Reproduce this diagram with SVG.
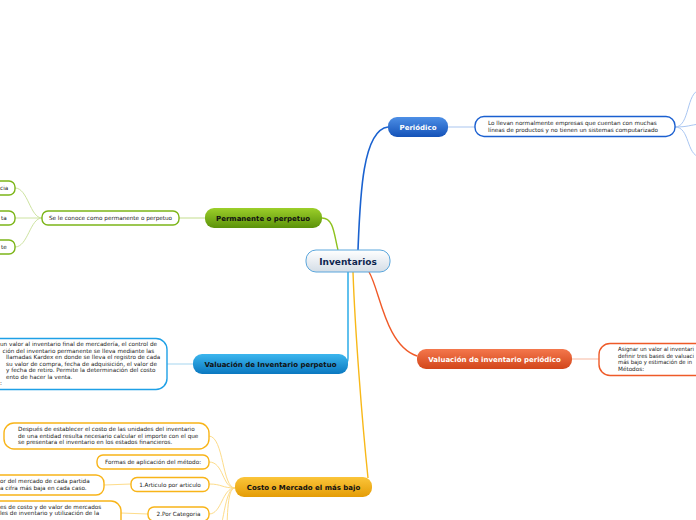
<svg xmlns="http://www.w3.org/2000/svg" width="696" height="520" viewBox="0 0 696 520">
<defs>
<linearGradient id="gCenter" x1="0" y1="0" x2="0" y2="1"><stop offset="0" stop-color="#ffffff"/><stop offset="1" stop-color="#d4dde6"/></linearGradient>
<linearGradient id="gBlue" x1="0" y1="0" x2="0" y2="1"><stop offset="0" stop-color="#4d8fe6"/><stop offset="1" stop-color="#1452b8"/></linearGradient>
<linearGradient id="gGreen" x1="0" y1="0" x2="0" y2="1"><stop offset="0" stop-color="#9ccf2a"/><stop offset="1" stop-color="#5b920a"/></linearGradient>
<linearGradient id="gCyan" x1="0" y1="0" x2="0" y2="1"><stop offset="0" stop-color="#3cb6ee"/><stop offset="1" stop-color="#0a78c0"/></linearGradient>
<linearGradient id="gOrange" x1="0" y1="0" x2="0" y2="1"><stop offset="0" stop-color="#f4774c"/><stop offset="1" stop-color="#d2461a"/></linearGradient>
<linearGradient id="gYellow" x1="0" y1="0" x2="0" y2="1"><stop offset="0" stop-color="#fbc53a"/><stop offset="1" stop-color="#e49c06"/></linearGradient>
</defs>
<style>
text{font-family:"DejaVu Sans",Verdana,sans-serif;}
.t{font-size:5.7px;fill:#222;}
.tc{font-size:5.7px;fill:#222;text-anchor:middle;}
.main{font-size:7px;font-weight:bold;text-anchor:middle;}
.box{fill:#fff;stroke-width:1.4;}
.c{fill:none;}
</style>
<g id="connectors">
<path class="c" d="M388,127 C362,130 360,200 358,250" stroke="#1a62d0" stroke-width="1.6"/>
<path class="c" d="M448,127 L475,127" stroke="#b8cff2" stroke-width="1.2"/>
<path class="c" d="M675,127 C690,127 686,92 700,90" stroke="#a9c6f2" stroke-width="1"/>
<path class="c" d="M675,127 C688,127 690,125 700,124" stroke="#a9c6f2" stroke-width="1"/>
<path class="c" d="M675,127 C690,127 686,155 700,157" stroke="#a9c6f2" stroke-width="1"/>
<path class="c" d="M322,218 C334,218 334,235 338,250" stroke="#8ec21e" stroke-width="1.4"/>
<path class="c" d="M205,218 L179,218" stroke="#cde3a0" stroke-width="1.2"/>
<path class="c" d="M42,218 C30,218 28,188 15,188" stroke="#cde3a0" stroke-width="1"/>
<path class="c" d="M42,218 L15,218" stroke="#cde3a0" stroke-width="1"/>
<path class="c" d="M42,218 C30,218 28,247 15,247" stroke="#cde3a0" stroke-width="1"/>
<path class="c" d="M348,272 L348,358 C348,362 347,364 344,364" stroke="#1ea6e6" stroke-width="1.4"/>
<path class="c" d="M193,364 L167,364" stroke="#b4dcf2" stroke-width="1.2"/>
<path class="c" d="M369,272 C380,290 385,345 417,356" stroke="#f05a28" stroke-width="1.4"/>
<path class="c" d="M572,359 L599,359" stroke="#f8c4b0" stroke-width="1.2"/>
<path class="c" d="M353,272 C355,330 362,420 368,478" stroke="#f8b818" stroke-width="1.4"/>
<path class="c" d="M235,488 C222,488 224,437 209,436" stroke="#fddc8a" stroke-width="1"/>
<path class="c" d="M235,488 C222,488 224,462 209,462" stroke="#fddc8a" stroke-width="1"/>
<path class="c" d="M235,488 C222,488 222,484 209,484" stroke="#fddc8a" stroke-width="1"/>
<path class="c" d="M235,488 C222,488 222,514 209,514" stroke="#fddc8a" stroke-width="1"/>
<path class="c" d="M235,488 C224,488 224,530 216,540" stroke="#fddc8a" stroke-width="1"/>
<path class="c" d="M235,488 C226,488 228,525 226,540" stroke="#fddc8a" stroke-width="1"/>
<path class="c" d="M131,484 L104,485" stroke="#fddc8a" stroke-width="1"/>
<path class="c" d="M148,514 L121,513" stroke="#fddc8a" stroke-width="1"/>
</g>
<g id="inventarios">
<rect x="306" y="250" width="84" height="22" rx="10" fill="url(#gCenter)" stroke="#5aa6dc" stroke-width="1"/>
<text x="348" y="265" text-anchor="middle" font-size="9" font-weight="bold" fill="#0e2650">Inventarios</text>
</g>
<g id="periodico">
<rect x="388" y="117" width="60" height="20" rx="9" fill="url(#gBlue)"/>
<text class="main" x="418" y="130" fill="#fff">Periódico</text>
</g>
<g id="periodico-texto">
<rect class="box" x="475" y="116.5" width="200" height="20" rx="9" stroke="#1a5fd0"/>
<text class="t" x="488" y="125">Lo llevan normalmente empresas que cuentan con muchas</text>
<text class="t" x="488" y="132">líneas de productos y no tienen un sistemas computarizado</text>
</g>
<g id="permanente">
<rect x="205" y="208" width="117" height="20" rx="9" fill="url(#gGreen)"/>
<text class="main" x="263" y="221" fill="#111">Permanente o perpetuo</text>
</g>
<g id="se-le-conoce">
<rect class="box" x="42" y="211" width="137" height="14" rx="6" stroke="#7cb518"/>
<text class="tc" x="110.5" y="220">Se le conoce como permanente o perpetuo</text>
</g>
<g id="perm-hijo1">
<rect class="box" x="-20" y="181" width="35" height="14" rx="6" stroke="#7cb518"/>
<text class="t" x="0" y="190">cia</text>
</g>
<g id="perm-hijo2">
<rect class="box" x="-20" y="211" width="35" height="14" rx="6" stroke="#7cb518"/>
<text class="t" x="1" y="220">ta</text>
</g>
<g id="perm-hijo3">
<rect class="box" x="-20" y="240" width="35" height="14" rx="6" stroke="#7cb518"/>
<text class="t" x="1" y="249">te</text>
</g>
<g id="valuacion-perpetuo">
<rect x="193" y="354" width="155" height="20" rx="9" fill="url(#gCyan)"/>
<text class="main" x="270.5" y="367" fill="#111">Valuación de Inventario perpetuo</text>
</g>
<g id="perpetuo-texto">
<rect class="box" x="-30" y="338.5" width="197" height="51" rx="11" stroke="#1ea0e6"/>
<text class="t" x="0" y="346">un valor al inventario final de mercadería, el control de</text>
<text class="t" x="2.5" y="352.5">ción del inventario permanente se lleva mediante las</text>
<text class="t" x="6" y="359">llamadas Kardex en donde se lleva el registro de cada</text>
<text class="t" x="6" y="365.5">su valor de compra, fecha de adquisición, el valor de</text>
<text class="t" x="6" y="372">y fecha de retiro. Permite la determinación del costo</text>
<text class="t" x="6" y="378.5">ento de hacer la venta.</text>
<text class="t" x="0" y="385">:</text>
</g>
<g id="valuacion-periodico">
<rect x="417" y="349" width="155" height="20" rx="9" fill="url(#gOrange)"/>
<text class="main" x="494.5" y="362" fill="#fff">Valuación de inventario periódico</text>
</g>
<g id="periodico-valuacion-texto">
<rect class="box" x="599" y="343.5" width="120" height="32" rx="11" stroke="#ee5a28"/>
<text class="t" x="618" y="351" textLength="76" lengthAdjust="spacingAndGlyphs">Asignar un valor al inventari</text>
<text class="t" x="618" y="357.5" textLength="76" lengthAdjust="spacingAndGlyphs">definir tres bases de valuaci</text>
<text class="t" x="618" y="364" textLength="74" lengthAdjust="spacingAndGlyphs">más bajo y estimación de in</text>
<text class="t" x="618" y="370.5">Métodos:</text>
</g>
<g id="costo-mercado">
<rect x="235" y="477" width="137" height="20" rx="9" fill="url(#gYellow)"/>
<text class="main" x="303.5" y="490" fill="#111">Costo o Mercado el más bajo</text>
</g>
<g id="costo-texto">
<rect class="box" x="4" y="423" width="205" height="26" rx="10" stroke="#f8b418"/>
<text class="t" x="18" y="431">Después de establecer el costo de las unidades del inventario</text>
<text class="t" x="18" y="437.5">de una entidad resulta necesario calcular el importe con el que</text>
<text class="t" x="18" y="444">se presentara el inventario en los estados financieros.</text>
</g>
<g id="formas">
<rect class="box" x="97" y="455" width="112" height="14" rx="6" stroke="#f8b418"/>
<text class="tc" x="153" y="464">Formas de aplicación del método:</text>
</g>
<g id="articulo">
<rect class="box" x="131" y="477.5" width="78" height="14" rx="6" stroke="#f8b418"/>
<text class="tc" x="170" y="486.5">1.Articulo por articulo</text>
</g>
<g id="articulo-texto">
<rect class="box" x="-30" y="475" width="134" height="20" rx="8" stroke="#f8b418"/>
<text class="t" x="0" y="483">or del mercado de cada partida</text>
<text class="t" x="0" y="489.5">a cifra más baja en cada caso.</text>
</g>
<g id="categoria">
<rect class="box" x="148" y="507" width="61" height="14" rx="6" stroke="#f8b418"/>
<text class="tc" x="178.5" y="516">2.Por Categoria</text>
</g>
<g id="categoria-texto">
<rect class="box" x="-30" y="501" width="151" height="30" rx="10" stroke="#f8b418"/>
<text class="t" x="0" y="508.5">es de costo y de valor de mercados</text>
<text class="t" x="0" y="515">les de inventario y utilización de la</text>
</g>
</svg>
